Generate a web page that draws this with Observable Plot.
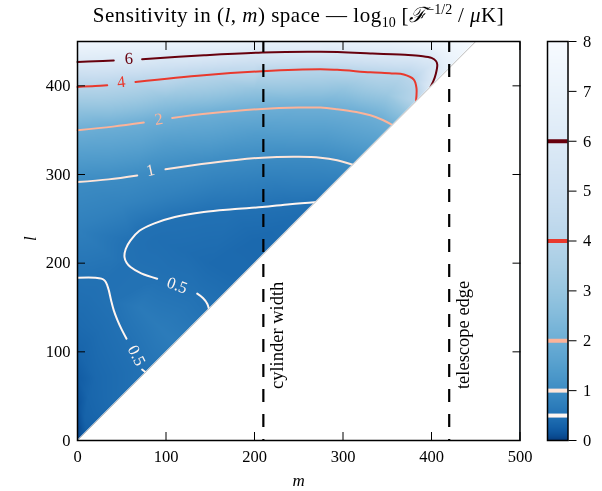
<!DOCTYPE html>
<html><head><meta charset="utf-8">
<script src="https://cdn.jsdelivr.net/npm/d3@7"></script>
<script src="https://cdn.jsdelivr.net/npm/@observablehq/plot@0.6"></script>
<style>
body{margin:0;background:#fff;}
#wrap{position:relative;width:602px;height:491px;font-family:"Liberation Serif",serif;overflow:hidden;background:#fff;}
#main{position:absolute;left:0;top:0;}
#cbar{position:absolute;left:530px;top:0;}
#main svg,#cbar svg{overflow:visible;}
#title{position:absolute;left:77px;width:443px;top:2px;line-height:26px;text-align:center;font-size:21px;letter-spacing:0.5px;color:#000;white-space:nowrap;}
#title sub,#title sup{font-size:14px;line-height:0;letter-spacing:0;}
</style></head><body>
<div id="wrap"><div id="main"></div><div id="cbar"></div>
<div id="title">Sensitivity in (<i>l</i>, <i>m</i>) space — log<sub>10</sub> [<i>ℱ</i><sup>−1/2</sup> / <i>μ</i>K]</div>
</div>
<script>
// ---------- data ----------
const mMax = 500, lMax = 450;
const mTicks = [0, 100, 200, 300, 400, 500];
const lTicks = [0, 100, 200, 300, 400];
const cbarTicks = [0, 1, 2, 3, 4, 5, 6, 7, 8];
const levels = [0.5, 1, 2, 4, 6];
const guideM = [210, 420];
const guideText = ["cylinder width", "telescope edge"];
const guideL = 58;

// contour polylines, [m, l]; null marks a label gap
const contour6 = [[0,427],[20,427.7],[41,428.5],null,[73,430],[143,434.5],[209,437.6],[275,438.3],[331,436.6],[370,435],[388,433.7],[400,431.5],[405,428],[406.5,424],[405,414],[402,405],[399,399]];
const contour4 = [[0,398.8],[20,399.7],[33.6,400.7],null,[65.5,404.4],[142.7,412],[208.7,416.5],[274.6,418.7],[293.4,418],[331,415.3],[355,414],[368.7,412.8],[380,407.1],[383,397.6],[382.5,383]];
const contour2 = [[0,349.9],[40,354],[74.9,358.6],null,[107,363.8],[150,369],[208.7,374],[250,375.5],[274.6,375.5],[293.4,373.6],[315,370.5],[331,366.8],[345,361.5],[355.6,356]];
const contour1 = [[0,291.5],[35,294.5],[67.5,299],null,[99.4,305.9],[150,313],[208.7,319],[250,320],[274.6,319],[293.4,316],[311,311]];
const contourHalfU = [[271,269],[240,266.5],[208.7,263.3],[175,260.8],[142.7,257.7],[110,252],[86.2,244.6],[70,236.5],[59.9,225.7],[54.5,216],[53.1,206.9],[55.5,200.5],[59.9,195.6],[72,188.5],[90,182.5],null,[135.3,165.6],[142,160.5],[146.6,154.3],[148.5,148.5]];
const contourHalfB = [[0,183.6],[20,183.6],[27,182.5],[31,180],[33.6,175],[35.4,169.3],[38,158],[41,146.7],[45,136],[50,125],[55.4,114.8],null,[73,80],[77,77]];

// contour labels
const labelText = ["6", "4", "2", "1", "0.5", "0.5"];
const labelLevel = [6, 4, 2, 1, 0.5, 0.5];
const labelM = [58, 49.4, 91.9, 82.5, 112.7, 66.7];
const labelL = [430.8, 404.4, 362.3, 304.7, 175, 95.9];
const labelAngle = [-3, -7, -9, -12, 20, 63];

// extra field readings [m, l, value] between the contours
const fieldAnchors = [
  [0,0,0],[0,15,0.05],[0,40,0.13],[0,70,0.22],[0,100,0.32],[0,130,0.4],[0,160,0.46],[0,237,0.73],[0,320,1.45],[0,375,2.9],[0,413,4.9],[0,450,7.4],
  [6,6,0.2],[10,10,0.27],[8,25,0.3],[12,50,0.34],[40,40,0.42],[110,110,0.68],[180,180,0.42],[210,210,0.38],[240,240,0.42],[290,290,0.72],
  [335,335,1.5],[370,370,2.9],[392,392,5],[425,425,7],[450,450,8],
  [20,70,0.37],[25,125,0.44],[15,165,0.48],[70,150,0.64],[95,125,0.67],[40,205,0.56],[75,175,0.52],
  [120,215,0.44],[150,200,0.4],[200,225,0.38],[235,245,0.42],[260,262,0.47],[175,185,0.4],[90,225,0.46],
  [50,265,0.8],[100,275,0.76],[160,287,0.74],[220,293,0.73],[280,290,0.72],
  [100,335,1.45],[200,345,1.42],[280,345,1.45],
  [100,385,2.9],[200,395,2.9],[300,397,2.9],[350,390,3.1],
  [100,419,4.9],[200,427,5],[300,428,5],[360,425,5.1],[394,420,5.2],
  [100,450,7.2],[200,450,6.9],[275,450,6.8],[350,450,7.0],[400,450,7.4],[420,440,7.3],[415,420,6.6],[410,435,6.8]
];

// ---------- build ----------
const contourSets = [
  {level: 0.5, pts: contourHalfB}, {level: 0.5, pts: contourHalfU},
  {level: 1, pts: contour1}, {level: 2, pts: contour2},
  {level: 4, pts: contour4}, {level: 6, pts: contour6}
];
const reds = d3.scaleSequential(d3.interpolateReds).domain([0.5, 6]);
const lineRows = pts => pts.map(p => p ? {m: p[0], l: p[1]} : {m: NaN, l: NaN});
const fieldRows = [
  ...contourSets.flatMap(c => c.pts.filter(p => p).map(p => ({m: p[0], l: p[1], v: c.level}))),
  ...fieldAnchors.map(([m, l, v]) => ({m, l, v}))
];
const labels = labelText.map((t, i) => ({t, level: labelLevel[i], m: labelM[i], l: labelL[i], a: labelAngle[i]}));
const guides = guideM.map((m, i) => ({m, t: guideText[i]}));
const maskEdge = [0, lMax, mMax];
const colorScale = {type: "sqrt", domain: [0, 8], scheme: "blues", reverse: true};
const font = "Liberation Serif";

const main = Plot.plot({
  width: 530, height: 491,
  marginLeft: 77, marginRight: 10.5, marginTop: 41, marginBottom: 51,
  x: {domain: [0, mMax]},
  y: {domain: [0, lMax]},
  color: colorScale,
  style: {fontFamily: font, fontSize: "16.5px", background: "transparent", color: "black", overflow: "visible"},
  marks: [
    Plot.raster(fieldRows, {x: "m", y: "l", fill: "v", interpolate: "barycentric", x1: 0, x2: mMax, y1: 0, y2: lMax}),
    ...contourSets.map(c => Plot.line(lineRows(c.pts), {x: "m", y: "l", stroke: reds(c.level), strokeWidth: 2, curve: "catmull-rom"})),
    ...labels.map(d => Plot.text([d], {x: "m", y: "l", text: "t", rotate: d.a, fill: reds(d.level), fontSize: 16.5})),
    Plot.areaY(maskEdge, {x: d => d, y1: 0, y2: d => Math.min(d, lMax), fill: "white"}),
    Plot.line([0, lMax], {x: d => d, y: d => d, stroke: "#bbbbbb", strokeWidth: 1, mixBlendMode: "multiply"}),
    Plot.ruleX(guides, {x: "m", stroke: "black", strokeWidth: 2.2, strokeDasharray: "13,12", strokeDashoffset: 2}),
    Plot.text(guides, {x: "m", y: guideL, text: "t", rotate: -90, textAnchor: "start", lineAnchor: "middle", dx: 14, fontSize: 18.5}),
    Plot.axisX(mTicks, {anchor: "bottom", tickSize: -8, tickPadding: 18, label: null}),
    Plot.axisX(mTicks, {anchor: "top", tickSize: -8, tickFormat: () => "", label: null}),
    Plot.axisY(lTicks, {anchor: "left", tickSize: -8, tickPadding: 15, label: null}),
    Plot.axisY(lTicks, {anchor: "right", tickSize: -8, tickFormat: () => "", label: null}),
    Plot.frame({stroke: "black", strokeWidth: 1.5}),
    Plot.text(["m"], {frameAnchor: "bottom", dy: 45, text: d => d, fontStyle: "italic", fontSize: 17}),
    Plot.text(["l"], {frameAnchor: "left", dx: -47, text: d => d, rotate: -90, fontStyle: "italic", fontSize: 17})
  ]
});
document.getElementById("main").appendChild(main);

const cbar = Plot.plot({
  width: 72, height: 491,
  marginLeft: 17, marginRight: 34.5, marginTop: 41, marginBottom: 51,
  x: {domain: [0, 1], axis: null},
  y: {domain: [0, 8], axis: null},
  color: colorScale,
  style: {fontFamily: font, fontSize: "16.5px", background: "transparent", color: "black", overflow: "visible"},
  marks: [
    Plot.raster({fill: (x, y) => y, x1: 0, x2: 1, y1: 0, y2: 8}),
    ...levels.map(v => Plot.ruleY([v], {y: d => d, stroke: reds(v), strokeWidth: 4})),
    Plot.frame({stroke: "black", strokeWidth: 1.5}),
    Plot.axisY(cbarTicks, {anchor: "right", tickSize: 8, tickPadding: 7, tickFormat: d3.format("d"), label: null})
  ]
});
document.getElementById("cbar").appendChild(cbar);
</script>
</body></html>
